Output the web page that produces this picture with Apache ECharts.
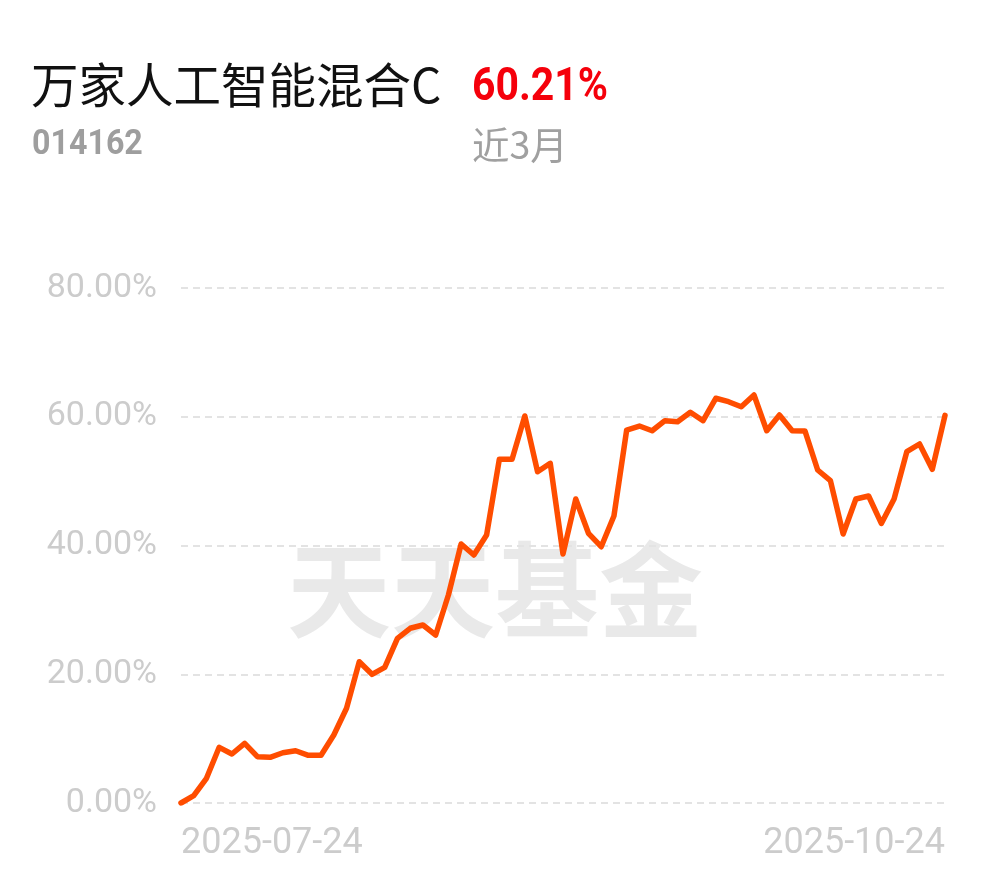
<!DOCTYPE html>
<html>
<head>
<meta charset="utf-8">
<script src="https://cdn.jsdelivr.net/npm/echarts@6/dist/echarts.min.js"></script>
<style>
  html, body { margin: 0; padding: 0; background: #fff; }
  #chart { width: 990px; height: 878px; }
</style>
</head>
<body>
<div id="chart"></div>
<script>
// trading days 2025-07-24 .. 2025-10-24
const dates = [
  '2025-07-24', '2025-07-25', '2025-07-28', '2025-07-29', '2025-07-30', '2025-07-31',
  '2025-08-01', '2025-08-04', '2025-08-05', '2025-08-06', '2025-08-07', '2025-08-08',
  '2025-08-11', '2025-08-12', '2025-08-13', '2025-08-14', '2025-08-15',
  '2025-08-18', '2025-08-19', '2025-08-20', '2025-08-21', '2025-08-22',
  '2025-08-25', '2025-08-26', '2025-08-27', '2025-08-28', '2025-08-29',
  '2025-09-01', '2025-09-02', '2025-09-03', '2025-09-04', '2025-09-05',
  '2025-09-08', '2025-09-09', '2025-09-10', '2025-09-11', '2025-09-12',
  '2025-09-15', '2025-09-16', '2025-09-17', '2025-09-18', '2025-09-19',
  '2025-09-22', '2025-09-23', '2025-09-24', '2025-09-25', '2025-09-26',
  '2025-09-29', '2025-09-30', '2025-10-09', '2025-10-10',
  '2025-10-13', '2025-10-14', '2025-10-15', '2025-10-16', '2025-10-17',
  '2025-10-20', '2025-10-21', '2025-10-22', '2025-10-23', '2025-10-24'
];

// cumulative return, %
const returns = [
  0, 1.13, 3.84, 8.65, 7.61, 9.27, 7.19, 7.10, 7.81, 8.12,
  7.41, 7.41, 10.56, 14.71, 21.95, 19.99, 21.08, 25.58, 27.14, 27.65,
  26.10, 32.31, 40.23, 38.52, 41.63, 53.39, 53.39, 60.12, 51.46, 52.77,
  38.68, 47.22, 41.90, 39.81, 44.58, 57.94, 58.56, 57.83, 59.39, 59.23,
  60.69, 59.39, 62.87, 62.34, 61.56, 63.38, 57.83, 60.27, 57.83, 57.79,
  51.73, 50.07, 41.79, 47.22, 47.69, 43.43, 47.22, 54.57, 55.77, 51.84,
  60.21
];

const yTicks = [0, 20, 40, 60, 80];

const fundName = '万家人工智能混合C';
const fundCode = '014162';
const periodReturn = '60.21%';
const periodLabel = '近3月';

const chart = echarts.init(document.getElementById('chart'));
const lastIdx = dates.length - 1;

const option = {
  backgroundColor: '#fff',
  animation: false,
  graphic: [
    {
      type: 'text', z: -10, x: 495, y: 590,
      style: {
        text: '天天基金', fill: '#e9e9e9',
        font: 'bold 104px "Noto Sans CJK SC"',
        textAlign: 'center', textVerticalAlign: 'middle'
      }
    },
    {
      type: 'text', x: 31, y: 85,
      style: {
        text: fundName, fill: '#111',
        font: '47.5px "Noto Sans CJK SC"',
        textVerticalAlign: 'middle'
      }
    },
    {
      type: 'text', x: 472, y: 88, scaleX: 0.89,
      style: {
        text: periodReturn, fill: '#f5000b',
        font: 'bold 46px Roboto',
        textVerticalAlign: 'middle'
      }
    },
    {
      type: 'text', x: 32, y: 145, scaleX: 0.92,
      style: {
        text: fundCode, fill: '#9e9e9e',
        font: 'bold 35px Roboto',
        textVerticalAlign: 'middle'
      }
    },
    {
      type: 'text', x: 472, y: 145,
      style: {
        text: periodLabel, fill: '#a0a0a0',
        font: '37.5px "Noto Sans CJK SC"',
        textVerticalAlign: 'middle'
      }
    }
  ],
  grid: {
    left: 181,
    right: 45,
    top: 288,
    bottom: 75
  },
  xAxis: {
    type: 'category',
    data: dates,
    boundaryGap: false,
    axisLine: { show: false },
    axisTick: { show: false },
    splitLine: { show: false },
    axisLabel: {
      interval: (idx) => idx === 0 || idx === lastIdx,
      showMinLabel: true,
      showMaxLabel: true,
      alignMinLabel: 'left',
      alignMaxLabel: 'right',
      margin: 23,
      color: '#cccccc',
      fontSize: 36,
      fontFamily: 'Roboto'
    }
  },
  yAxis: {
    type: 'value',
    min: yTicks[0],
    max: yTicks[yTicks.length - 1],
    interval: 20,
    axisLine: { show: false },
    axisTick: { show: false },
    axisLabel: {
      margin: 24,
      color: '#cccccc',
      fontSize: 34,
      fontFamily: 'Roboto',
      formatter: (v) => v.toFixed(2) + '%'
    },
    splitLine: {
      lineStyle: { color: '#e3e3e3', width: 2, type: [7, 5] }
    }
  },
  series: [
    {
      type: 'line',
      data: returns,
      symbol: 'none',
      smooth: false,
      z: 5,
      lineStyle: { color: '#ff4d00', width: 5.5, cap: 'round', join: 'round' }
    }
  ]
};

chart.setOption(option);
</script>
</body>
</html>
